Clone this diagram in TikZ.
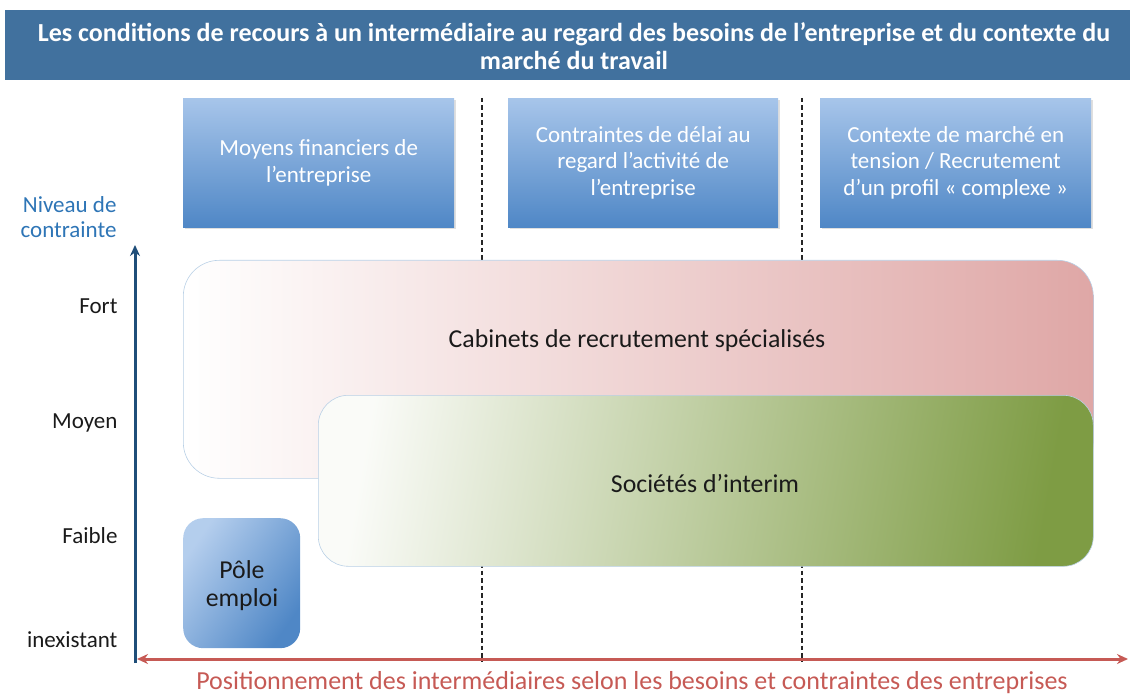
\documentclass[tikz,border=0pt]{standalone}
\usepackage{fontspec}
\setmainfont{Carlito}
\usetikzlibrary{arrows.meta,shadows}
\definecolor{bannerblue}{HTML}{41719E}
\definecolor{hdrtop}{HTML}{A7C5EA}
\definecolor{hdrbot}{HTML}{4F87C6}
\definecolor{axisblue}{HTML}{1F4E79}
\definecolor{axisred}{HTML}{C65A55}
\definecolor{lblblue}{HTML}{2E75B6}
\definecolor{pinkR}{HTML}{DFA7A6}
\definecolor{greenR}{HTML}{7E9C44}
\definecolor{edgeblue}{HTML}{B9D0E6}
\definecolor{txtdark}{HTML}{1A1A1A}
\begin{document}
\begin{tikzpicture}[x=1pt,y=-1pt,
  hdrbox/.style={anchor=north west, inner sep=0pt, minimum height=129pt,
    top color=hdrtop, bottom color=hdrbot, draw=none,
    drop shadow={shadow xshift=2pt, shadow yshift=-2pt, opacity=0.25}},
  hdrtxt/.style={text=white, align=center, font=\fontsize{23}{26.5}\selectfont},
  lvl/.style={anchor=east, text=txtdark, font=\fontsize{23}{26}\selectfont},
  bigtxt/.style={text=txtdark, align=center, font=\fontsize{25.8}{28}\selectfont},
  sep/.style={draw=black!85, line width=2pt, dash pattern=on 4.5pt off 3pt},
]
\useasboundingbox (0,0) rectangle (1130,695);
% title banner
\node[anchor=north west, inner sep=0pt, minimum width=1125pt, minimum height=70pt,
  fill=bannerblue] (banner) at (5,10) {};
\node[text=white, align=center, font=\bfseries\fontsize{26}{28}\selectfont] (title) at (574,46)
  {Les conditions de recours à un intermédiaire au regard des besoins de l’entreprise et du contexte du\\marché du travail};
% dashed separators
\coordinate (s1t) at (482,98); \coordinate (s1b) at (482,662);
\coordinate (s2t) at (802,98); \coordinate (s2b) at (802,662);
\draw[sep] (s1t) -- (s1b);
\draw[sep] (s2t) -- (s2b);
% header boxes
\node[hdrbox, minimum width=271pt] (h1) at (183,98) {};
\node[hdrbox, minimum width=270pt] (h2) at (508,98) {};
\node[hdrbox, minimum width=271pt] (h3) at (820,98) {};
\node[hdrtxt] (h1t) at (h1.center) {Moyens financiers de\\l’entreprise};
\node[hdrtxt] (h2t) at (h2.center) {Contraintes de délai au\\regard l’activité de\\l’entreprise};
\node[hdrtxt] (h3t) at (h3.center) {Contexte de marché en\\tension / Recrutement\\d’un profil « complexe »};
% cabinets
\node[anchor=north west, inner sep=0pt, minimum width=910pt, minimum height=218pt,
  rounded corners=36pt, left color=white, right color=pinkR, draw=edgeblue, line width=0.6pt] (cab) at (183,260) {};
\node[bigtxt] (cabt) at (637,341) {Cabinets de recrutement spécialisés};
% societes
\node[anchor=north west, inner sep=0pt, minimum width=775pt, minimum height=171pt,
  rounded corners=30pt, left color=white!96!greenR, right color=greenR, shading angle=80,
  draw=edgeblue, line width=0.6pt] (soc) at (318,395) {};
\node[bigtxt] (soct) at (705,483) {Sociétés d’interim};
% pole emploi
\node[anchor=north west, inner sep=0pt, minimum width=117pt, minimum height=130pt,
  rounded corners=20pt, left color=hdrtop!85!white, right color=hdrbot, shading angle=55] (pole) at (183,518) {};
\node[bigtxt] (polet) at (242,586) {Pôle\\emploi};
% axis labels
\node[anchor=east, text=lblblue, align=right, font=\fontsize{23}{25}\selectfont] (niv) at (120,217) {Niveau de\\contrainte};
\node[lvl] (fort) at (121,306) {Fort};
\node[lvl] (moy) at (121,423) {Moyen};
\node[lvl] (faib) at (121,536) {Faible};
\node[lvl] (inex) at (121,640) {inexistant};
% axes
\coordinate (vb) at (135,663); \coordinate (vt) at (135,245);
\coordinate (hl) at (137,659); \coordinate (hr) at (1128,659);
\draw[axisred, line width=3pt, {Stealth[length=11pt,width=10pt]}-{Stealth[length=11pt,width=10pt]}] (hl) -- (hr);
\draw[axisblue, line width=3pt, -{Stealth[length=11pt,width=10pt]}] (vb) -- (vt);
\node[text=axisred, font=\fontsize{26}{28}\selectfont] (xlbl) at (632,683)
  {Positionnement des intermédiaires selon les besoins et contraintes des entreprises};
\end{tikzpicture}
\end{document}
